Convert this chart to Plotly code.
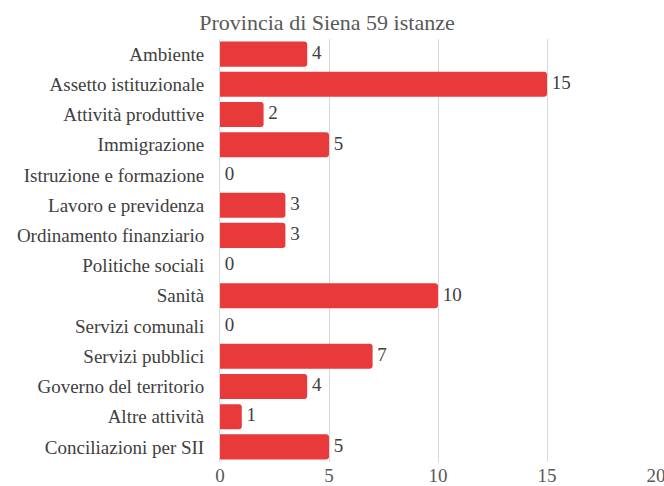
import plotly.graph_objects as go

categories = ["Ambiente", "Assetto istituzionale", "Attività produttive", "Immigrazione",
              "Istruzione e formazione", "Lavoro e previdenza", "Ordinamento finanziario",
              "Politiche sociali", "Sanità", "Servizi comunali", "Servizi pubblici",
              "Governo del territorio", "Altre attività", "Conciliazioni per SII"]
values = [4, 15, 2, 5, 0, 3, 3, 0, 10, 0, 7, 4, 1, 5]
x_ticks = [0, 5, 10, 15, 20]
title_text = "Provincia di Siena 59 istanze"

FONT = "Liberation Serif"

fig = go.Figure()
fig.add_trace(go.Bar(
    y=categories, x=values, orientation="h",
    marker=dict(color="#E8393B", cornerradius=3, line=dict(width=0)),
    width=0.83, hoverinfo="skip",
))
fig.add_trace(go.Scatter(
    y=categories, x=values, mode="text",
    text=[" " + str(v) for v in values], textposition="middle right",
    textfont=dict(family=FONT, size=19, color="#404040"),
    cliponaxis=False, hoverinfo="skip",
))
fig.update_layout(
    width=664, height=486,
    margin=dict(l=220, r=8, t=39, b=24),
    paper_bgcolor="white", plot_bgcolor="white",
    showlegend=False,
    title=dict(text=title_text, x=0.4925, xref="container", xanchor="center",
               y=0.955, yref="container", yanchor="middle",
               font=dict(family=FONT, size=22, color="#595959")),
    xaxis=dict(range=[0, 20], tickvals=x_ticks, showgrid=True, gridcolor="#D9D9D9",
               gridwidth=1, zeroline=False, showline=False, ticks="",
               automargin=False, ticklabeloverflow="allow",
               tickfont=dict(family=FONT, size=19, color="#595959"), fixedrange=True),
    yaxis=dict(range=[len(categories) - 0.5, -0.5], autorange=False,
               showline=True, linecolor="#D9D9D9", linewidth=1,
               ticks="", ticklabelstandoff=11, automargin=False,
               tickfont=dict(family=FONT, size=19, color="#404040"), fixedrange=True),
)
page_fix = (
    "var s=document.createElement('style');"
    "s.textContent='html,body{margin:0;padding:0;overflow:hidden;width:664px;height:486px;}';"
    "document.head.appendChild(s);"
)
fig.write_html(
    "out.html",
    config={"displayModeBar": False, "staticPlot": True},
    post_script=page_fix,
)
